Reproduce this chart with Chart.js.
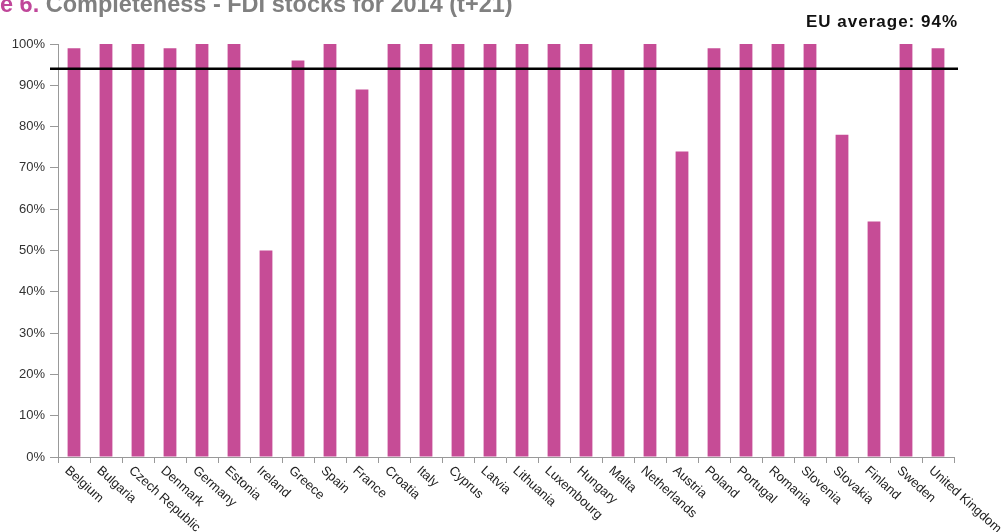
<!DOCTYPE html>
<html>
<head>
<meta charset="utf-8">
<script src="https://cdn.jsdelivr.net/npm/chart.js@4/dist/chart.umd.min.js"></script>
<style>
  body { margin: 0; background: #fff; }
  #wrap { width: 1002px; height: 532px; position: relative; }
</style>
</head>
<body>
<div id="wrap"><canvas id="fdiChart"></canvas></div>
<script>
var countries = ["Belgium", "Bulgaria", "Czech Republic", "Denmark", "Germany", "Estonia", "Ireland",
  "Greece", "Spain", "France", "Croatia", "Italy", "Cyprus", "Latvia", "Lithuania", "Luxembourg",
  "Hungary", "Malta", "Netherlands", "Austria", "Poland", "Portugal", "Romania", "Slovenia",
  "Slovakia", "Finland", "Sweden", "United Kingdom"];
var completeness = [99, 100, 100, 99, 100, 100, 50, 96, 100, 89, 100, 100, 100, 100, 100, 100,
  100, 94, 100, 74, 99, 100, 100, 100, 78, 57, 100, 99];
var euAverage = 94;
var yTicks = [0, 10, 20, 30, 40, 50, 60, 70, 80, 90, 100];

var titlePlugin = {
  id: 'titleText',
  afterDraw: function(chart) {
    var ctx = chart.ctx;
    ctx.save();
    ctx.textBaseline = 'alphabetic';
    ctx.textAlign = 'left';
    ctx.font = 'bold 23.5px "Liberation Sans", Arial, sans-serif';
    ctx.fillStyle = '#C0479A';
    ctx.fillText('e 6.', 0, 12);
    var w = ctx.measureText('e 6. ').width;
    ctx.fillStyle = '#808080';
    ctx.fillText('Completeness - FDI stocks for 2014 (t+21)', w, 12);
    ctx.font = 'bold 17px "Liberation Sans", Arial, sans-serif';
    ctx.letterSpacing = '1px';
    ctx.fillStyle = '#111';
    ctx.textAlign = 'right';
    ctx.fillText('EU average: 94%', 958, 27);
    ctx.restore();
  }
};

var avgLinePlugin = {
  id: 'avgLine',
  afterDatasetsDraw: function(chart) {
    var ctx = chart.ctx, area = chart.chartArea;
    var y = chart.scales.y.getPixelForValue(euAverage);
    ctx.save();
    ctx.strokeStyle = '#000';
    ctx.lineWidth = 2.5;
    ctx.beginPath();
    ctx.moveTo(area.left - 8, y);
    ctx.lineTo(area.right + 4, y);
    ctx.stroke();
    ctx.restore();
  }
};

var slantLabels = {
  id: 'slantLabels',
  afterDraw: function(chart) {
    var ctx = chart.ctx, xs = chart.scales.x, area = chart.chartArea;
    ctx.save();
    ctx.font = '13px "Liberation Sans", Arial, sans-serif';
    ctx.fillStyle = '#222';
    ctx.textAlign = 'left';
    ctx.textBaseline = 'top';
    countries.forEach(function(name, i) {
      var x = xs.getPixelForTick(i);
      ctx.save();
      ctx.translate(x - 3, area.bottom + 7);
      ctx.rotate(42 * Math.PI / 180);
      ctx.fillText(name, 0, 0);
      ctx.restore();
    });
    ctx.restore();
  }
};

new Chart(document.getElementById('fdiChart'), {
  type: 'bar',
  data: {
    labels: countries,
    datasets: [{
      data: completeness,
      backgroundColor: '#C64C96',
      borderWidth: 0,
      barPercentage: 0.4,
      categoryPercentage: 1
    }]
  },
  options: {
    responsive: true,
    maintainAspectRatio: false,
    animation: false,
    layout: { padding: { left: 0, top: 44, right: 48, bottom: 0 } },
    plugins: { legend: { display: false }, tooltip: { enabled: false } },
    scales: {
      x: {
        grid: { offset: true, drawOnChartArea: false, drawTicks: true, tickLength: 6, color: '#999' },
        border: { color: '#999' },
        ticks: { display: false },
        afterFit: function(scale) { scale.height = 75; }
      },
      y: {
        min: 0,
        max: 100,
        afterBuildTicks: function(scale) { scale.ticks = yTicks.map(function(v) { return { value: v }; }); },
        grid: { drawOnChartArea: false, drawTicks: true, tickLength: 8, color: '#999' },
        border: { color: '#999' },
        ticks: {
          padding: 5,
          color: '#333',
          font: { size: 13, family: '"Liberation Sans", Arial, sans-serif' },
          callback: function(v) { return v + '%'; }
        },
        afterFit: function(scale) { scale.width = 58; }
      }
    }
  },
  plugins: [titlePlugin, avgLinePlugin, slantLabels]
});
</script>
</body>
</html>
